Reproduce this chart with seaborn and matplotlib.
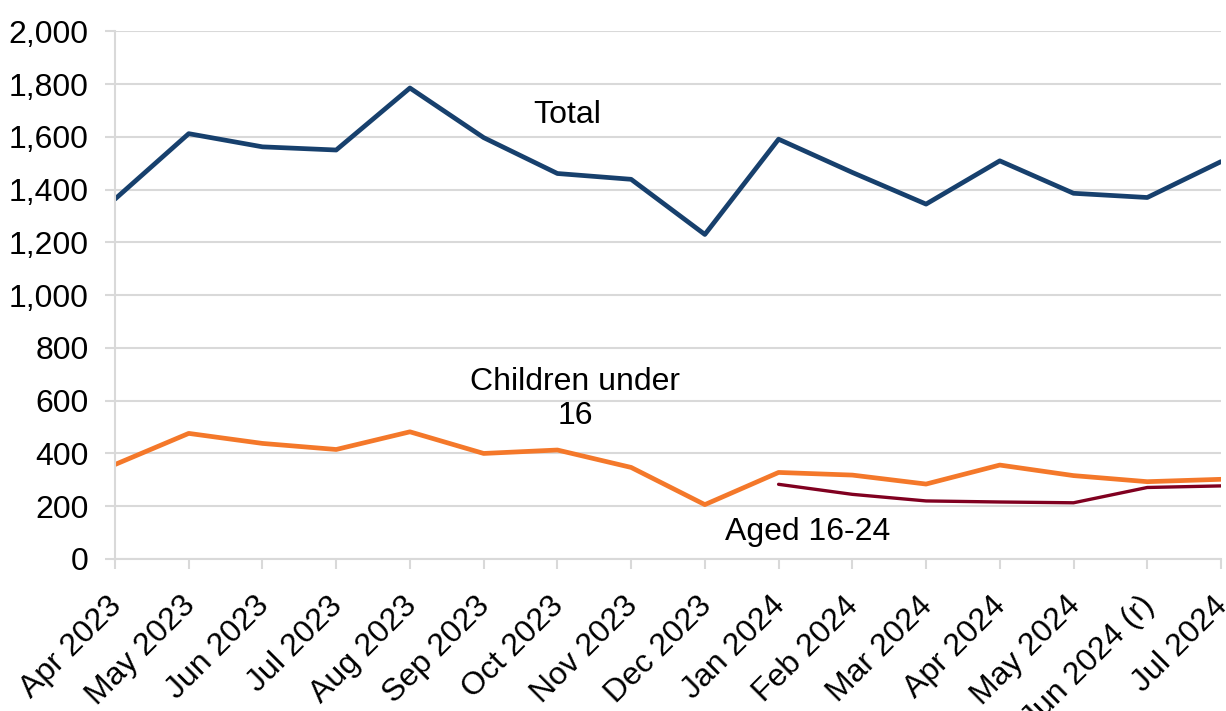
import pandas as pd
import numpy as np
import matplotlib
matplotlib.use("Agg")
import matplotlib.pyplot as plt
import matplotlib.transforms as mtransforms
import seaborn as sns

# data
months = ["Apr 2023", "May 2023", "Jun 2023", "Jul 2023", "Aug 2023", "Sep 2023",
          "Oct 2023", "Nov 2023", "Dec 2023", "Jan 2024", "Feb 2024", "Mar 2024",
          "Apr 2024", "May 2024", "Jun 2024 (r)", "Jul 2024"]
total = [1364, 1612, 1562, 1550, 1785, 1597, 1461, 1439, 1230, 1591, 1465, 1345,
         1509, 1386, 1370, 1506]
children_under_16 = [358, 476, 438, 415, 482, 400, 413, 347, 206, 328, 318, 284,
                     356, 316, 293, 302]
aged_16_24 = [np.nan] * 9 + [283, 245, 220, 216, 213, 271, 277]

df = pd.DataFrame({"month": months, "Total": total,
                   "Children under 16": children_under_16,
                   "Aged 16-24": aged_16_24})

sns.set_style("white")
plt.rcParams["font.family"] = ["Liberation Sans", "DejaVu Sans"]
plt.rcParams["text.color"] = "black"
plt.rcParams["xtick.labelcolor"] = "black"
plt.rcParams["ytick.labelcolor"] = "black"

fs = 23

fig = plt.figure(figsize=(12.26, 7.11), dpi=100)
ax = fig.add_axes([0.0938, 0.2138, 0.9021, 0.7422])

grid_col = "#d9d9d9"
ax.yaxis.grid(True, color=grid_col, linewidth=1.5)
ax.set_axisbelow(True)

sns.lineplot(data=df, x="month", y="Total", ax=ax, color="#17406d", linewidth=3.4, sort=False)
sns.lineplot(data=df, x="month", y="Children under 16", ax=ax, color="#f4782a", linewidth=3.4, sort=False)
sns.lineplot(data=df.dropna(), x="month", y="Aged 16-24", ax=ax, color="#800020", linewidth=2.4, sort=False)

ax.set_xlim(0, len(months) - 1)
ax.set_ylim(0, 2000)
ax.set_yticks(range(0, 2001, 200))
ax.yaxis.set_major_formatter(matplotlib.ticker.FuncFormatter(lambda v, p: f"{int(v):,}"))
ax.set_xlabel("")
ax.set_ylabel("")

for s in ["top", "right"]:
    ax.spines[s].set_visible(False)
for s in ["left", "bottom"]:
    ax.spines[s].set_color(grid_col)
    ax.spines[s].set_linewidth(1.5)

ax.tick_params(axis="y", length=7, width=1.5, color=grid_col, labelsize=fs, pad=12, left=True)
ax.tick_params(axis="x", length=7, width=1.5, color=grid_col, labelsize=fs, pad=9, bottom=True)
shift = mtransforms.ScaledTranslation(2 / 100, -20 / 100, fig.dpi_scale_trans)
for lab in ax.get_xticklabels():
    lab.set_rotation(45)
    lab.set_ha("right")
    lab.set_va("center")
    lab.set_rotation_mode("anchor")
    lab.set_transform(lab.get_transform() + shift)

ax.text(6.13, 1682, "Total", fontsize=fs, ha="center", va="center")
ax.text(6.24, 606, "Children under\n16", fontsize=fs, ha="center", va="center", linespacing=1.2)
ax.text(9.4, 102, "Aged 16-24", fontsize=fs, ha="center", va="center")

fig.savefig("out.png", dpi=100)
